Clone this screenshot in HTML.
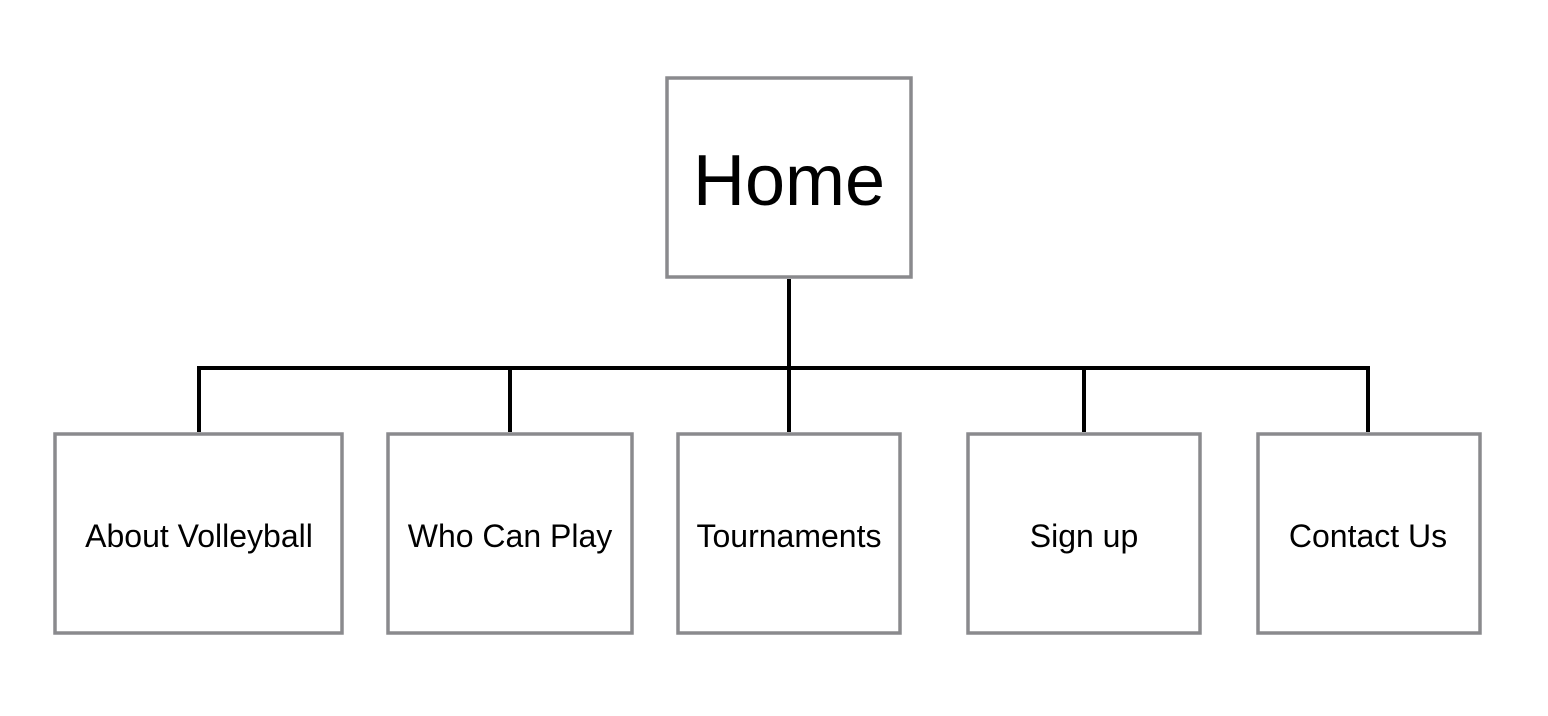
<!DOCTYPE html>
<html><head><style>
body{margin:0;background:#fff;}
svg{display:block;}
text{font-family:"Liberation Sans",sans-serif;fill:#000;}
</style></head><body>
<svg width="1548" height="716" viewBox="0 0 1548 716">
<g fill="none" stroke="#000" stroke-width="4">
<line x1="789" y1="279" x2="789" y2="432"/>
<polyline points="199,432 199,368 1368,368 1368,432"/>
<line x1="510" y1="368" x2="510" y2="432"/>
<line x1="1084" y1="368" x2="1084" y2="432"/>
</g>
<g fill="#fff" stroke="#8a8a8d" stroke-width="3.5">
<rect x="667" y="78" width="244" height="199"/>
<rect x="55" y="434" width="287" height="199"/>
<rect x="388" y="434" width="244" height="199"/>
<rect x="678" y="434" width="222" height="199"/>
<rect x="968" y="434" width="232" height="199"/>
<rect x="1258" y="434" width="222" height="199"/>
</g>
<text x="789" y="205" font-size="72" text-anchor="middle">Home</text>
<g font-size="32" text-anchor="middle">
<text x="199" y="547">About Volleyball</text>
<text x="510" y="547">Who Can Play</text>
<text x="789" y="547">Tournaments</text>
<text x="1084" y="547">Sign up</text>
<text x="1368" y="547">Contact Us</text>
</g>
</svg>
</body></html>
